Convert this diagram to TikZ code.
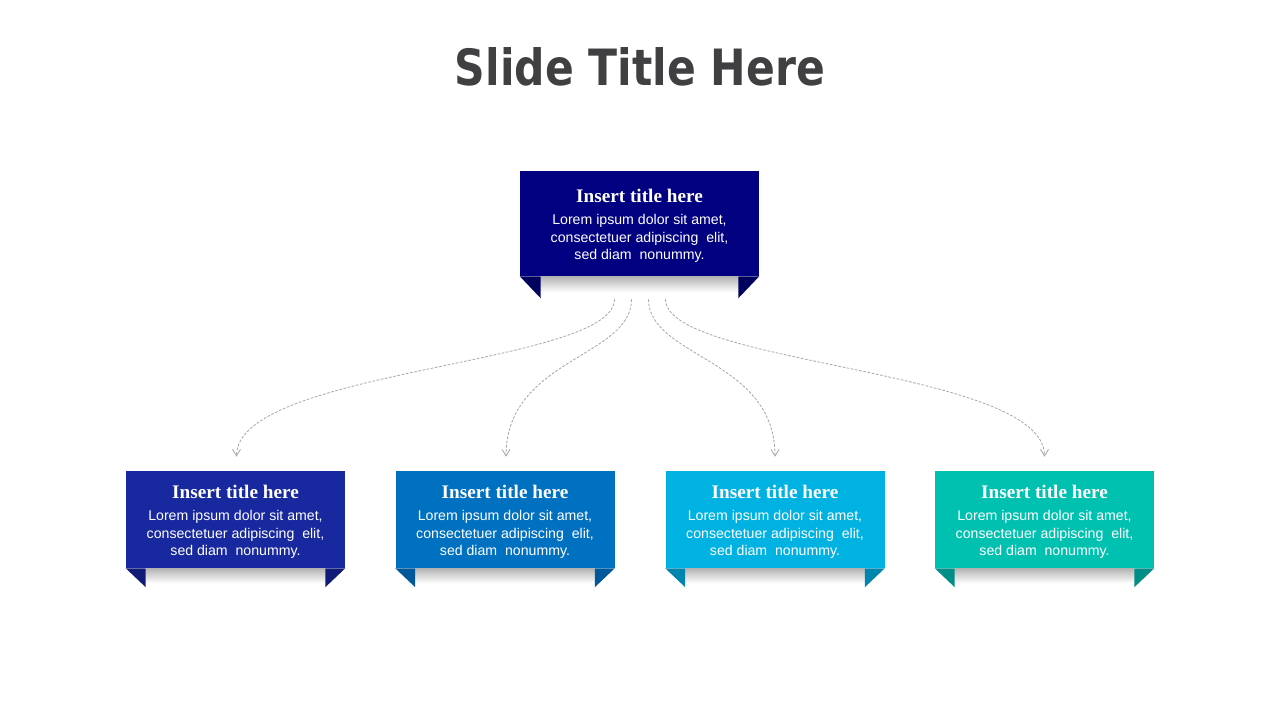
\documentclass[tikz,border=0pt]{standalone}
\usepackage{fontspec}
\setmainfont{Liberation Sans}
\newfontfamily\slidetitlefont[FakeStretch=0.85]{DejaVu Sans Bold}
\newfontfamily\boxtitlefont{Liberation Serif}
\usetikzlibrary{arrows.meta,calc}
\definecolor{titlegray}{HTML}{404042}
\definecolor{topc}{HTML}{000080}
\definecolor{topd}{HTML}{00005E}
\definecolor{cA}{HTML}{18289E}
\definecolor{dA}{HTML}{111C78}
\definecolor{cB}{HTML}{0070C0}
\definecolor{dB}{HTML}{00579A}
\definecolor{cC}{HTML}{00B2E2}
\definecolor{dC}{HTML}{0086AE}
\definecolor{cD}{HTML}{00C1B0}
\definecolor{dD}{HTML}{008E86}
\definecolor{connc}{HTML}{A6A6A6}
\tikzset{
  slidetitle/.style={font=\slidetitlefont\fontsize{37.5pt}{44pt}\selectfont, text=titlegray, inner sep=0pt},
  card/.style={inner sep=0pt, align=center, text=white,
    font=\fontsize{10.6pt}{13.1pt}\selectfont},
  topcard/.style={card, minimum width=179.25pt, minimum height=78.75pt},
  lowcard/.style={card, minimum width=164.25pt, minimum height=72.75pt},
  conn/.style={draw=connc, line width=0.6pt, dash pattern=on 2pt off 1.2pt,
    -{Straight Barb[length=5pt,width=6pt,line width=0.6pt]}},
  shadowband/.style={top color=black!30, bottom color=white}
}
\newcommand{\cardtext}{\rule{0pt}{13.8pt}{\boxtitlefont\bfseries\fontsize{14.4pt}{16pt}\selectfont Insert title here}\\[3.6pt]
Lorem ipsum dolor sit amet,\\ consectetuer adipiscing~ elit,\\ sed diam~ nonummy.}
\begin{document}
\begin{tikzpicture}[x=0.75pt,y=-0.75pt]
\useasboundingbox (0,0) rectangle (1280,720);
\fill[white] (0,0) rectangle (1280,720);
\node[slidetitle, anchor=base] (title) at (640,86) {Slide Title Here};

% top card
\node[topcard, fill=topc] (top) at (639.5,223.5) {\cardtext};
\shade[shadowband] ($(top.south west)+(21,0)$) rectangle ($(top.south east)+(-21,16)$);
\fill[topd] (top.south west) -- ++(21,0) -- ++(0,22) -- cycle;
\fill[topd] (top.south east) -- ++(-21,0) -- ++(0,22) -- cycle;

% lower cards
\foreach \n/\cx/\c/\d in {b1/235.5/cA/dA, b2/505/cB/dB, b3/775/cC/dC, b4/1044.5/cD/dD}{
  \node[lowcard, fill=\c] (\n) at (\cx,519.5) {\cardtext};
  \shade[shadowband] ($(\n.south west)+(20,0)$) rectangle ($(\n.south east)+(-20,15)$);
  \fill[\d] (\n.south west) -- ++(20,0) -- ++(0,19) -- cycle;
  \fill[\d] (\n.south east) -- ++(-20,0) -- ++(0,19) -- cycle;
}

% connector ends
\coordinate (s1) at ($(top.south)+(-25,23)$);
\coordinate (s2) at ($(top.south)+(-8,23)$);
\coordinate (s3) at ($(top.south)+(9,23)$);
\coordinate (s4) at ($(top.south)+(26,23)$);
\coordinate (e1) at ($(b1.north)+(1,-14)$);
\coordinate (e2) at ($(b2.north)+(1,-14)$);
\coordinate (e3) at ($(b3.north)+(0,-14)$);
\coordinate (e4) at ($(b4.north)+(0,-14)$);

\draw[conn] (s1) .. controls +(0,66) and +(0,-88) .. (e1);
\draw[conn] (s2) .. controls +(0,58) and +(0,-98) .. (e2);
\draw[conn] (s3) .. controls +(0,58) and +(0,-98) .. (e3);
\draw[conn] (s4) .. controls +(0,66) and +(0,-88) .. (e4);
\end{tikzpicture}
\end{document}
